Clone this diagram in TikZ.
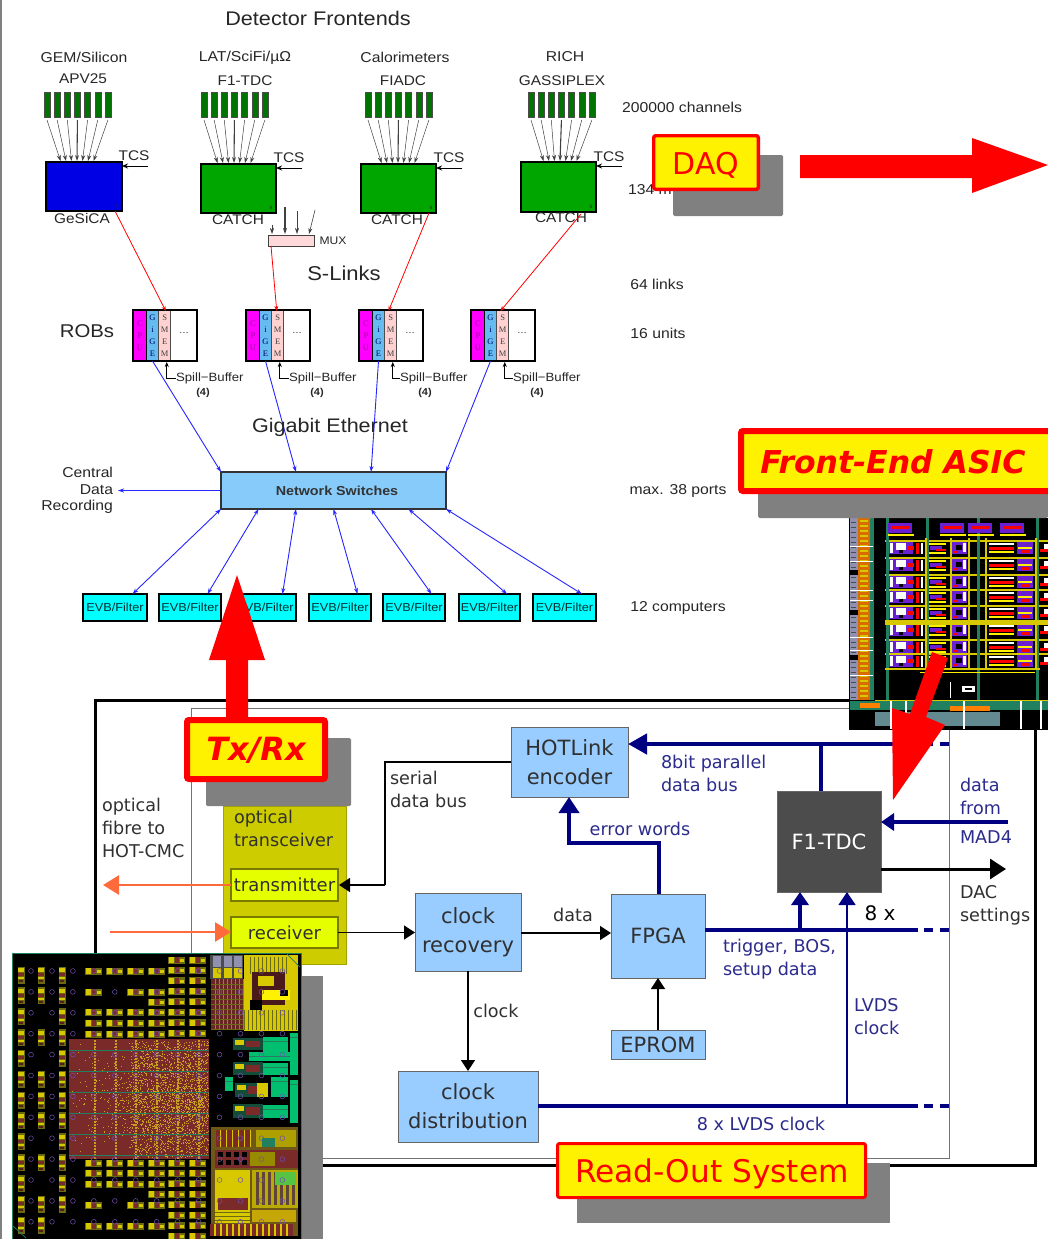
\documentclass[tikz,border=0pt]{standalone}
\usepackage{fontspec}
\setmainfont{DejaVu Sans}
\newfontfamily\hv[FakeStretch=1.1]{Liberation Sans}
\newfontfamily\tm{Liberation Serif}
\usetikzlibrary{arrows.meta,calc}
\newcommand\fz[2]{\fontsize{#1}{#2}\selectfont}
\newcommand\boxnode[7]{%
 \pgfmathsetmacro\bw{#5-(#3)}\pgfmathsetmacro\bh{#6-(#4)}%
 \pgfmathsetmacro\bcx{(#3+#5)/2}\pgfmathsetmacro\bcy{(#4+#6)/2}%
 \node[#1,minimum width=\bw pt,minimum height=\bh pt,inner sep=0pt,outer sep=0pt,anchor=center] (#2) at (\bcx,\bcy) {#7};}
\definecolor{bluebox}{HTML}{99CCFF}
\definecolor{swbox}{HTML}{87CBFB}
\definecolor{navyl}{HTML}{000080}
\definecolor{navyt}{HTML}{2B2B8C}
\definecolor{txtg}{HTML}{303030}
\definecolor{orangeline}{HTML}{FF6A3C}
\definecolor{gold}{HTML}{CCCC00}
\definecolor{lime}{HTML}{E6FF00}
\definecolor{grayshadow}{HTML}{808080}
\definecolor{brn}{HTML}{7B2A2A}
\definecolor{padolive}{HTML}{6A6A10}
\definecolor{padyel}{HTML}{D8C800}
\definecolor{pgreen}{HTML}{00C070}
\definecolor{teal2}{HTML}{208060}
\definecolor{purp}{HTML}{6A20D0}
\definecolor{via}{HTML}{7050B0}
\definecolor{cyn}{HTML}{00FFFF}
\definecolor{mgn}{HTML}{FF00FF}
\definecolor{cputxt}{HTML}{A000A0}
\definecolor{gicell}{HTML}{66BBF0}
\definecolor{lilac}{HTML}{9090B0}
\definecolor{stip}{HTML}{C8A020}
\tikzset{
 lab/.style={inner sep=0pt,outer sep=0pt,font=\hv\fz{14.3}{16},text=black!85},
 lowlab/.style={inner sep=0pt,outer sep=0pt,align=left,anchor=north west,font=\fz{17.6}{23},text=txtg},
 navylab/.style={lowlab,text=navyt},
 blockb/.style={draw=black!60,line width=.8pt,fill=bluebox,font=\fz{21}{29},text=txtg,align=center},
 bar/.style={draw=black!70,line width=.5pt,fill=green!45!black},
 fan/.style={draw=black!75,line width=.5pt,-{Stealth[length=6pt,width=4pt]}},
 fanmid/.style={fan,line width=1.1pt},
 rline/.style={draw=red,line width=.8pt,-{Stealth[length=5pt,width=4pt]}},
 bline/.style={draw=blue!85!white,line width=.9pt,-{Stealth[length=6pt,width=4pt]}},
 bline2/.style={draw=blue!85!white,line width=.9pt,{Stealth[length=6pt,width=4pt]}-{Stealth[length=6pt,width=4pt]}},
 evb/.style={draw=black,line width=1.6pt,fill=cyn,font=\hv\fz{11.6}{14},text=black!60!teal},
 robcell/.style={line width=0pt,font=\tm\fz{8.5}{12},align=center},
 redbox/.style={draw=red,fill=yellow,rounded corners=2pt},
 shadowbox/.style={fill=grayshadow,rounded corners=1.5pt},
 navyarrow/.style={draw=navyl,line width=4.5pt,-{Triangle[length=19pt,width=20pt]}},
 navymid/.style={draw=navyl,line width=3.4pt,-{Triangle[length=13pt,width=17pt]}},
 blackarrow/.style={draw=black,line width=1.4pt,-{Triangle[length=11pt,width=14pt]}},
 orangearrow/.style={draw=orangeline,line width=2.8pt,-{Triangle[length=16pt,width=19pt]}},
}
\begin{document}
\begin{tikzpicture}[x=1pt,y=-1pt]
\useasboundingbox (0,0) rectangle (1048,1239);
\fill[white] (0,0) rectangle (1048,1239);
\draw[grayshadow,line width=2pt] (1,0) -- (1,1239);

% ---- upper diagram ----
\node[lab,font=\hv\fz{19.7}{22}] (title) at (318,18) {Detector Frontends};
\node[lab] (c1) at (84,57) {GEM/Silicon};
\node[lab] (c2) at (245,58) {LAT/SciFi/µΩ};
\node[lab] (c3) at (405,57) {Calorimeters};
\node[lab] (c4) at (565,57) {RICH};
\node[lab,font=\hv\fz{14}{16}] (d1) at (83,79) {APV25};
\node[lab,font=\hv\fz{14}{16}] (d2) at (245,81) {F1-TDC};
\node[lab,font=\hv\fz{14}{16}] (d3) at (403,81) {FIADC};
\node[lab,font=\hv\fz{14}{16}] (d4) at (562,81) {GASSIPLEX};
\node[lab] (ch) at (682,107) {200000 channels};
\node[lab] (mb) at (650,190) {134 m};
\node[lab] (sl64) at (657,284) {64 links};
\node[lab] (un16) at (658,333) {16 units};
\node[lab] (ports) at (678,491) {max. 38 ports};
\node[lab] (comp) at (678,608) {12 computers};
\node[lab,font=\hv\fz{20}{22}] (slinks) at (344,273) {S-Links};
\node[lab,font=\hv\fz{18.5}{20}] (robs) at (87,331) {ROBs};

% frontend boxes
\boxnode{draw=black,line width=1.6pt,fill=blue!90!black}{fe1}{46}{162}{122}{211}{}
\boxnode{draw=black,line width=1.6pt,fill=green!65!black}{fe2}{201}{164}{276}{213}{}
\boxnode{draw=black,line width=1.6pt,fill=green!65!black}{fe3}{361}{164}{436}{213}{}
\boxnode{draw=black,line width=1.6pt,fill=green!65!black}{fe4}{521}{162}{596}{212}{}
\foreach \g/\x/\off/\yb/\tx/\ty/\cn/\cx/\cy in {1/44/31/162/134/156/GeSiCA/82/218,2/201/33/164/289/158/CATCH/238/220,3/365/37/164/449/158/CATCH/397/220,4/528/39/162/609/157/CATCH/561/218}{
  \foreach \k in {1,...,7}{
    \pgfmathsetmacro\bx{\x+(\k-1)*10.15}
    \boxnode{bar}{b\g k\k}{\bx}{92}{\bx+6}{117}{}
    \coordinate (st\g k\k) at ($(b\g k\k.south)+(0,3)$);
    \coordinate (en\g k\k) at ($(fe\g.north west)+(\off+\k*5.5-22,-1)$);
    \ifnum\k=4 \draw[fanmid] (st\g k\k) -- (en\g k\k);
    \else \draw[fan] (st\g k\k) -- (en\g k\k); \fi
  }
  \node[lab,font=\hv\fz{14}{16}] (tcs\g) at (\tx,\ty) {TCS};
  \coordinate (tc\g) at ($(fe\g.north east)+(26,4)$);
  \draw[black,line width=1pt,-{Stealth[length=6pt,width=5pt]}] (tc\g) -- (fe\g.north east |- tc\g);
  \node[lab,font=\tm\fz{7}{8}] at ($(fe\g.south east)+(-5,-5)$) {s};
  \node[lab,font=\hv\fz{14}{16}] (cat\g) at (\cx,\cy) {\cn};
}
% MUX
\boxnode{draw=black!75,line width=1pt,fill=red!15}{mux}{268}{235}{314}{246}{}
\node[lab,font=\hv\fz{11}{13}] (muxl) at (333,241) {MUX};
\foreach \i/\xa/\xb/\ya/\w in {1/272/272/225/.6,2/285/285/207/1.1,3/297/297/211/.6,4/315/309/210/.6}{
  \coordinate (mi\i) at (\xa,\ya);
  \draw[fan,line width=\w pt] (mi\i) -- (\xb,234);
}
% ROBs
\foreach \n/\x/\sx/\fx in {1/133/176/203,2/246/289/317,3/359/400/425,4/471/513/537}{
  \boxnode{robcell,fill=mgn,text=cputxt}{rob\n c}{\x+1}{311}{\x+13}{360}{C\\P\\U}
  \boxnode{robcell,fill=gicell,text=blue!40!black}{rob\n g}{\x+13.5}{311}{\x+25.5}{360}{G\\i\\G\\E}
  \boxnode{robcell,fill=red!18,text=black!75}{rob\n s}{\x+26}{311}{\x+37.5}{360}{S\\M\\E\\M}
  \boxnode{draw=black,line width=1.6pt}{rob\n}{\x}{310}{\x+64}{361}{}
  \draw[black,line width=1pt] (rob\n c.north east) -- (rob\n c.south east);
  \draw[black!70,line width=.8pt] (rob\n g.north east) -- (rob\n g.south east);
  \draw[black!70,line width=.8pt] (rob\n s.north east) -- (rob\n s.south east);
  \node[lab,font=\hv\fz{9}{10}] at (\x+51,333) {\dots};
  \node[lab,font=\hv\fz{12}{13},anchor=west] (sp\n) at (\sx,378) {Spill−Buffer};
  \node[lab,font=\hv\bfseries\fz{10}{11}] (sq\n) at (\fx,393) {(4)};
  \draw[black,line width=.9pt,{Stealth[length=5pt,width=4pt]}-] ($(rob\n s.south)+(2,2)$) |- (sp\n.west);
}
\draw[rline] (fe1.south east) ++(-7,0) -- ($(rob1s.north)+(1,0)$);
\draw[rline] ($(mux.south west)+(3,0)$) -- ($(rob2s.north)+(-1,0)$);
\draw[rline] (fe3.south east) ++(-7,0) -- ($(rob3g.north)+(10,0)$);
\draw[rline] (fe4.south east) ++(-15,2) -- ($(rob4g.north)+(10,0)$);
% switches
\boxnode{draw=black!80,line width=1.6pt,fill=swbox}{sw}{221}{472}{446}{509}{}
\node[lab,font=\hv\bfseries\fz{13}{14},text=black!80] (swl) at (337,491) {Network Switches};
\foreach \n/\f in {1/0,2/.333,3/.667,4/1}{
  \draw[bline] ($(rob\n g.south)+(0,1)$) -- ($(sw.north west)!\f!(sw.north east)$);
}
\node[lab,font=\hv\fz{14.3}{16.5},align=right,anchor=east] (cdr) at (113,490.5) {Central\\Data\\Recording};
\draw[bline,line width=1.2pt] (sw.west) -- ($(cdr.east)+(5,0)$);
\node[lab,font=\hv\fz{19.6}{22}] (gbe) at (330,427) {Gigabit Ethernet};
\foreach \i/\a/\b/\fr in {1/83/147/0,2/159/221/.1667,3/234/296/.3333,4/309/371/.5,5/383/445/.6667,6/459/520/.8333,7/533/596/1}{
  \boxnode{evb}{evb\i}{\a}{594}{\b}{621}{EVB/Filter}
  \draw[bline2] ($(sw.south west)!\fr!(sw.south east)$) -- ($(evb\i.north)+(17.5,0)$);
}

% ---- read-out frame ----
\draw[black,line width=3pt] (95,700) rectangle (1035,1165);
\draw[black!55,line width=1pt] (191,708) rectangle (949,1158);

% big red arrow
\fill[red] (237,575) -- (265,660) -- (248,660) -- (248,720) -- (226,720) -- (226,660) -- (209,660) -- cycle;

% gold transceiver
\boxnode{draw=gold!80!black,line width=.8pt,fill=gold}{gold}{223}{806}{346}{964}{}
\node[lowlab] (otr) at (234,810) {optical\\transceiver};
\boxnode{draw=gold!60!black,line width=1.2pt,fill=lime,font=\fz{18}{22},text=txtg}{tx}{231}{869}{338}{901}{transmitter}
\boxnode{draw=gold!60!black,line width=1.2pt,fill=lime,font=\fz{18}{22},text=txtg}{rx}{231}{917}{338}{948}{receiver}
\coordinate (fibout) at (103,885);
\coordinate (fibin) at (110,932);
\draw[orangearrow] (tx.west) -- (tx.west -| fibout);
\draw[orangearrow] (fibin) -- (rx.west |- fibin);
\node[lowlab] (fib) at (102,798.5) {optical\\fibre to\\HOT-CMC};

% blocks
\boxnode{blockb}{hot}{511}{727}{628}{797}{HOTLink\\encoder}
\boxnode{blockb}{crec}{415}{893}{521}{971}{clock\\recovery}
\boxnode{blockb}{fpga}{611}{894}{705}{978}{FPGA}
\boxnode{blockb}{eprom}{611}{1030}{705}{1059}{EPROM}
\boxnode{blockb}{cdis}{398}{1071}{538}{1142}{clock\\distribution}
\boxnode{draw=black!60,line width=.8pt,fill=black!70,font=\fz{21}{25},text=white}{f1}{777}{791}{881}{892}{F1-TDC}

% connectors
\coordinate (serk) at (385,762);
\draw[black,line width=1.4pt] (hot.west |- serk) -- (serk) -- (serk |- tx.east);
\draw[black,line width=1.4pt,-{Triangle[length=11pt,width=14pt]}] (serk |- tx.east) -- ($(tx.east)+(1,0)$);
\draw[blackarrow] (rx.east) -- (crec.west |- rx.east);
\draw[blackarrow] (crec.east |- 0,933) -- (fpga.west |- 0,933);
\draw[black,line width=1.4pt,-{Triangle[length=11pt,width=14pt]}] (crec.south) -- (crec.south |- cdis.north);
\draw[black,line width=1.4pt,-{Triangle[length=11pt,width=14pt]}] (eprom.north) -- (fpga.south);
\coordinate (b8e) at (918,744);
\draw[navyarrow] (b8e) -- (hot.east |- b8e);
\draw[navyl,line width=4.5pt] (924,744) -- (933,744) (940,744) -- (949,744);
\coordinate (jn) at (821,744);
\draw[navyl,line width=4.5pt] (jn) -- (jn |- f1.north);
\coordinate (ew1) at (659,843);
\coordinate (ew2) at (569,843);
\draw[navyl,line width=4pt,line join=miter,-{Triangle[length=16pt,width=20pt]}] (fpga.north -| ew1) -- (ew1) -- (ew2) -- (ew2 |- hot.south);
\coordinate (madin) at (1008,822);
\draw[navymid] (madin) -- (f1.east |- madin);
\coordinate (dacout) at (1006,869);
\draw[black,line width=3pt,-{Triangle[length=16pt,width=20pt]}] (f1.east |- dacout) -- (dacout);
\coordinate (trge) at (918,930);
\draw[navyl,line width=4.5pt] (fpga.east |- trge) -- (trge);
\draw[navyl,line width=4.5pt] (924,930) -- (933,930) (940,930) -- (949,930);
\coordinate (t1) at (800,930);
\draw[navymid] (t1) -- (t1 |- f1.south);
\coordinate (lvds) at (847,1106);
\draw[navyl,line width=1.4pt,-{Triangle[length=13pt,width=17pt]}] (lvds) -- (lvds |- f1.south);
\coordinate (cle) at (918,1106);
\draw[navyl,line width=3.6pt] (cdis.east |- cle) -- (cle);
\draw[navyl,line width=3.6pt] (924,1106) -- (933,1106) (940,1106) -- (949,1106);

% lower labels
\node[lowlab] (serl) at (390,771) {serial\\data bus};
\node[lowlab,anchor=center] (datal) at (573,915) {data};
\node[lowlab,anchor=center] (clkl) at (496,1011) {clock};
\node[navylab] (b8l) at (661,755) {8bit parallel\\data bus};
\node[navylab,anchor=center] (errl) at (640,829) {error words};
\node[navylab] (trl) at (723,939) {trigger, BOS,\\setup data};
\node[navylab] (lvl) at (854,998) {LVDS\\clock};
\node[navylab,anchor=center] (lvc) at (761,1124) {8 x LVDS clock};
\node[lowlab,anchor=center,text=black,font=\fz{20}{23}] (ex) at (880,913) {8 x};
\node[navylab] (dat1) at (960,778) {data\\from};
\node[navylab] (dat2) at (960,831) {MAD4};
\node[lowlab] (dacl) at (960,885) {DAC\\settings};

% ---- front-end ASIC die ----
\begin{scope}
\clip (849,518) rectangle (1048,729);
\fill[black] (849,518) rectangle (1048,729);
\fill[lilac] (849,518) rectangle (858,700);
\fill[orange!85!black] (858,518) rectangle (870,700);
\fill[teal2] (870,518) rectangle (874,700);
\foreach \y in {520,525,...,696}{
  \fill[padyel] (860,\y) rectangle (868,\y+2.2);
  \fill[black!70] (851,\y+2) rectangle (856,\y+3);
}
\foreach \y in {546,561,590,600,637,650,675}{\fill[white] (849,\y) rectangle (873,\y+1);}
\foreach \y in {570,610,655}{\fill[black] (849,\y) rectangle (858,\y+5);}
% row cells
\foreach \y in {548,565,582,597,613,630,647,661}{
  \fill[padyel] (885,\y-8.5) rectangle (1048,\y-6.5);
  \fill[purp] (888,\y-6) rectangle (913,\y+6);
  \fill[white] (896,\y-5) rectangle (906,\y+2);
  \fill[white] (890,\y-5) rectangle (893,\y+5);
  \fill[red] (907,\y-2) rectangle (914,\y+2);
  \fill[black] (899,\y+2) rectangle (903,\y+5);
  \fill[red] (916,\y-5) rectangle (919,\y+6);
  \fill[white] (921,\y-5) rectangle (923,\y+6);
  \fill[yellow] (929,\y-5) rectangle (946,\y-3);
  \fill[purp] (930,\y-2) rectangle (942,\y+2);
  \fill[red] (936,\y+1) rectangle (946,\y+3);
  \fill[yellow] (929,\y+4) rectangle (946,\y+6);
  \fill[purp] (952,\y-6) rectangle (967,\y+6);
  \fill[black] (956,\y-3) rectangle (962,\y+2);
  \fill[white] (963,\y-5) rectangle (966,\y+4);
  \fill[red] (953,\y+3) rectangle (958,\y+5);
  \fill[white] (989,\y-5) rectangle (1014,\y-3);
  \fill[red] (989,\y-1) rectangle (1014,\y+2);
  \fill[yellow] (989,\y+3) rectangle (1014,\y+5);
  \fill[purp] (1017,\y-6) rectangle (1033,\y+6);
  \fill[yellow] (1018,\y-1) rectangle (1032,\y+1);
  \fill[red] (1022,\y+2) rectangle (1030,\y+5);
  \fill[white] (1044,\y-4) rectangle (1048,\y+2);
  \fill[red] (1040,\y+1) rectangle (1048,\y+4);
}
\foreach \x in {887,927,978,1037}{\fill[teal2] (\x-1.5,518) rectangle (\x+1.5,700);}
\foreach \x in {925,950,968,985,1035}{\fill[padyel] (\x,538) rectangle (\x+1.8,668);}
\fill[padyel] (885,620) rectangle (1048,625);
\foreach \x in {888,940,968,1000}{
  \fill[purp] (\x,523) rectangle (\x+24,533);
  \fill[red] (\x+4,526) rectangle (\x+22,529);
  \fill[yellow] (\x,534) rectangle (\x+26,536);
}
\fill[padyel] (885,668) rectangle (1040,670);
\draw[yellow,line width=1pt] (920,672) -- (1035,672);
\fill[white] (962,686) rectangle (975,692);
\fill[black] (965,688) rectangle (972,690);
\draw[white,line width=.6pt] (950,682) -- (950,698);
\fill[teal2] (849,701) rectangle (1048,710);
\fill[orange] (860,703) rectangle (880,708);
\fill[orange] (950,706) rectangle (990,711);
\fill[lilac!60!teal2] (875,712) rectangle (1000,726);
\fill[black] (849,712) rectangle (875,729);
\foreach \x in {890,905,963,1020,1040}{\fill[white] (\x,700) rectangle (\x+1.5,729);}
\fill[padyel] (875,700) rectangle (1048,701.2);
\end{scope}
\draw[black,line width=1pt] (849,518) -- (849,729) -- (1048,729);

% ---- callouts ----
\fill[shadowbox] (673,155) rectangle (783,216);
\draw[redbox,line width=3.4pt] (653.7,135.7) rectangle (758.3,189.3);
\node[inner sep=0pt,text=red,font=\fz{30}{34}] (daq) at (706,165) {DAQ};
\fill[red] (800,155) -- (972,155) -- (972,138) -- (1048,165) -- (972,193) -- (972,178) -- (800,178) -- cycle;

\fill[shadowbox] (758,480) rectangle (1048,518);
\draw[redbox,line width=6pt] (741,431) rectangle (1060,491);
\node[inner sep=0pt,text=red,font=\bfseries\itshape\fz{31.5}{36}] (fea) at (893,462) {Front-End ASIC};
\fill[red] (932,652) -- (948,658) -- (926,717) -- (945,725) -- (893,800) -- (892,708) -- (910,714) -- cycle;

\fill[shadowbox] (206,738) rectangle (351,806);
\draw[redbox,line width=6pt] (187,720) rectangle (325,779);
\node[inner sep=0pt,text=red,font=\bfseries\itshape\fz{32}{36}] (txrx) at (256,750) {Tx/Rx};

\fill[grayshadow] (577,1163) rectangle (890,1223);
\draw[redbox,line width=3pt] (557.5,1143.5) rectangle (865.5,1197.5);
\node[inner sep=0pt,text=red,font=\fz{31.2}{38}] (ros) at (712,1173.5) {Read-Out System};

% ---- system die ----
\fill[grayshadow] (301,976) rectangle (323,1239);
\fill[black] (12,953) rectangle (301,1239);
\draw[teal2,line width=.6pt] (12,953) rectangle (301,1239);
\foreach \x in {21,41,62}{
 \foreach \j in {0,...,12}{
  \pgfmathtruncatemacro\skipit{(\x==41 && (\j==2||\j==4||\j==8||\j==10)) || (\x==62 && \j==12) ? 1 : 0}
  \ifnum\skipit=0
   \pgfmathsetmacro\yy{975+\j*20.85}
   \fill[padolive] (\x-3.5,\yy-8.5) rectangle (\x+3.5,\yy+8.5);
   \fill[padyel] (\x-3,\yy-7) rectangle (\x+3,\yy-3);
   \fill[brn] (\x-3,\yy-2) rectangle (\x+3,\yy+1);
   \fill[padyel] (\x-3,\yy+2) rectangle (\x+3,\yy+4);
   \fill[brn!70!black] (\x-2,\yy+5) rectangle (\x+2,\yy+7);
  \fi
 }
}
\foreach \x/\y in {85/971,106/971,127/971,148/971,85/992,127/992,148/992,148/1002,85/1012,106/1012,127/1012,148/1012,85/1023,106/1023,127/1023,148/1023,85/1034,106/1034,127/1034,148/1034,
 85/1163,106/1163,127/1163,148/1163,85/1173,106/1173,127/1173,148/1173,85/1184,106/1184,127/1184,148/1184,148/1194,85/1205,127/1205,148/1205,85/1226,106/1226,127/1226,148/1226}{
   \fill[padolive] (\x,\y-3.5) rectangle (\x+17,\y+3.5);
   \fill[padyel] (\x+1,\y-3) rectangle (\x+6,\y+3);
   \fill[brn] (\x+7,\y-3) rectangle (\x+11,\y+3);
   \fill[padyel] (\x+12,\y-1) rectangle (\x+16,\y+2);
}
\foreach \x in {168,189}{
 \foreach \j in {0,...,8}{
  \pgfmathsetmacro\yy{960+\j*10.45}
  \fill[padolive] (\x,\yy-3.5) rectangle (\x+17,\yy+3.5);
  \fill[padyel] (\x+1,\yy-3) rectangle (\x+6,\yy+3);
  \fill[brn] (\x+7,\yy-3) rectangle (\x+11,\yy+3);
  \fill[padyel] (\x+12,\yy-1) rectangle (\x+16,\yy+2);
 }
 \foreach \j in {0,...,7}{
  \pgfmathsetmacro\yy{1163+\j*10.45}
  \fill[padolive] (\x,\yy-3.5) rectangle (\x+17,\yy+3.5);
  \fill[padyel] (\x+1,\yy-3) rectangle (\x+6,\yy+3);
  \fill[brn] (\x+7,\yy-3) rectangle (\x+11,\yy+3);
  \fill[padyel] (\x+12,\yy-1) rectangle (\x+16,\yy+2);
 }
}
% sea of gates
\fill[brn] (69,1039) rectangle (209,1159);
\pgfmathsetseed{42}
\foreach \i in {1,...,1300}{
  \pgfmathsetmacro\rx{208-138*rnd*sqrt(rnd)}
  \pgfmathsetmacro\ry{1099+58*(rnd-rnd)}
  \fill[stip] (\rx,\ry) rectangle ++(1,1);
}
\foreach \i in {1,...,1200}{
  \pgfmathsetmacro\rx{130+78*rnd}
  \pgfmathsetmacro\ry{1041+116*rnd}
  \fill[stip] (\rx,\ry) rectangle ++(1,1);
}
\foreach \x in {95,116,136,157,178,199}{
  \foreach \y in {1040,1043,...,1158}{\fill[stip] (\x-1,\y) rectangle (\x+1,\y+1.7);}
}
\foreach \y in {1050,1071,1092,1113,1134,1155}{\draw[teal2,line width=.4pt] (69,\y) -- (209,\y);}
% right part: top
\fill[black!70] (210,955) rectangle (243,979);
\fill[brn!85!black] (211,979) rectangle (243,1030);
\foreach \x in {215,219,...,243}{\draw[padyel!70!black,line width=.3pt] (\x,979) -- (\x,1030);}
\foreach \y in {984,989,...,1030}{\draw[padolive,line width=.3pt] (211,\y) -- (243,\y);}
\foreach \x in {217,228,238}{
  \fill[lilac] (\x-4,956) rectangle (\x+4,967);
  \fill[padyel] (\x-4,968) rectangle (\x+4,978);
}
\fill[padyel] (244,955) rectangle (298,1031);
\foreach \x in {250,254,...,286}{\fill[padolive] (\x,957) rectangle (\x+1,974);}
\foreach \x in {244,248,...,296}{\fill[padolive] (\x,1010) rectangle (\x+1.2,1030);}
\fill[brn!60!black] (252,972) rectangle (285,1005);
\fill[padyel] (258,976) rectangle (274,986);
\fill[yellow] (262,990) rectangle (290,1000);
\fill[black] (280,990) rectangle (288,996);
\fill[black] (250,1000) rectangle (262,1010);
\fill[black] (243,1031) rectangle (298,1036);
% right part: middle
\foreach \a/\b/\c/\d in {263/1037/288/1052,290/1033/298/1075,249/1052/290/1061,263/1063/288/1075,225/1077/233/1091,271/1077/288/1097,290/1080/298/1123,263/1105/288/1118}{
  \fill[pgreen] (\a,\b) rectangle (\c,\d);
  \draw[teal2,line width=.4pt] (\a,\b+4) -- (\c,\b+4);
}
\foreach \a/\b/\c/\d in {233/1038/263/1050,233/1062/263/1075,235/1083/268/1097,233/1104/263/1118}{
  \fill[teal2!60!black] (\a,\b) rectangle (\c,\d);
  \fill[padyel] (\a+2,\b+2) rectangle (\a+11,\b+7);
  \fill[brn] (\a+13,\b+3) rectangle (\c-3,\d-3);
}
\fill[padyel] (257,1083) rectangle (268,1097);
% right part: bottom
\fill[padolive!70!brn] (211,1127) rectangle (298,1236);
\fill[brn] (216,1130) rectangle (250,1147);
\foreach \x in {220,226,...,250}{\fill[padyel] (\x,1130) rectangle (\x+.8,1147);}
\fill[padyel!80!black] (256,1130) rectangle (296,1147);
\fill[teal2] (262,1138) rectangle (275,1147);
\fill[brn] (215,1150) rectangle (298,1168);
\foreach \x in {218,226,...,242}{\fill[black] (\x,1152) rectangle (\x+5,1157); \fill[black] (\x,1160) rectangle (\x+5,1165);}
\fill[padyel!70!black] (250,1152) rectangle (275,1166);
\fill[padyel] (215,1170) rectangle (250,1223);
\fill[brn] (218,1198) rectangle (248,1210);
\foreach \y in {1212,1216,1220}{\fill[padolive] (215,\y) rectangle (250,\y+1.2);}
\fill[padyel!85!black] (252,1170) rectangle (298,1208);
\foreach \x in {256,262,...,292}{\fill[brn!70!teal2] (\x,1172) rectangle (\x+2.5,1205);}
\fill[pgreen!60!padyel] (275,1172) rectangle (296,1185);
\fill[padyel!80!brn] (252,1210) rectangle (296,1222);
\fill[brn] (210,1224) rectangle (293,1236);
\foreach \x in {214,220,...,290}{\fill[padyel] (\x,1224) rectangle (\x+1.5,1236);}
% vias
\foreach \i in {0,...,12}{
  \foreach \j in {0,...,12}{
    \draw[via,line width=.5pt] (31+\i*20.95,971+\j*20.9) circle (2.4pt);
  }
}
\draw[teal2,line width=.7pt] (287,954) -- (300,967) (13,1226) -- (26,1238);
\end{tikzpicture}
\end{document}
